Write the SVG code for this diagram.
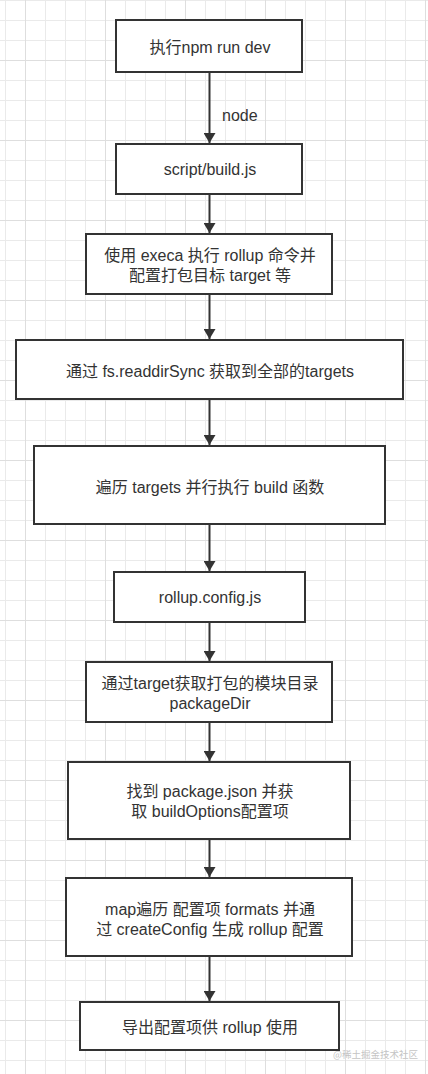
<svg xmlns="http://www.w3.org/2000/svg" width="428" height="1074" viewBox="0 0 428 1074">
<defs>
<pattern id="grid" patternUnits="userSpaceOnUse" x="25" y="60" width="80" height="80">
<rect x="0" y="0" width="80" height="80" fill="#ffffff"/>
<rect x="20" y="0" width="1" height="80" fill="#eaeaea"/>
<rect x="40" y="0" width="1" height="80" fill="#eaeaea"/>
<rect x="60" y="0" width="1" height="80" fill="#eaeaea"/>
<rect x="0" y="20" width="80" height="1" fill="#eaeaea"/>
<rect x="0" y="40" width="80" height="1" fill="#eaeaea"/>
<rect x="0" y="60" width="80" height="1" fill="#eaeaea"/>
<rect x="0" y="0" width="1" height="80" fill="#dedede"/>
<rect x="0" y="0" width="80" height="1" fill="#dedede"/>
</pattern>
<marker id="arrow" viewBox="0 0 10 12" refX="10" refY="6" markerWidth="10" markerHeight="12" markerUnits="userSpaceOnUse" orient="auto">
<path d="M0,0 L10,6 L0,12 Z" fill="#333"/>
</marker>
<style>
.box{fill:#ffffff;stroke:#333;stroke-width:2}
.t{font-family:"Liberation Sans","Noto Sans CJK SC",sans-serif;font-size:16px;fill:#333;text-anchor:middle}
.lbl{font-family:"Liberation Sans","Noto Sans CJK SC",sans-serif;font-size:16px;fill:#333}
.edge{stroke:#333;stroke-width:2;fill:none}
.wm{font-family:"Noto Sans CJK SC",sans-serif;font-size:9.5px;fill:#c4c4c4}
</style>
</defs>
<rect x="0" y="0" width="428" height="1074" fill="url(#grid)"/>
<g id="connectors">
<line class="edge" x1="209.5" y1="72" x2="209.5" y2="143" marker-end="url(#arrow)"/>
<text class="lbl" x="222" y="121">node</text>
<line class="edge" x1="209.5" y1="194" x2="209.5" y2="233" marker-end="url(#arrow)"/>
<line class="edge" x1="209.5" y1="294" x2="209.5" y2="339" marker-end="url(#arrow)"/>
<line class="edge" x1="209.5" y1="399" x2="209.5" y2="445" marker-end="url(#arrow)"/>
<line class="edge" x1="209.5" y1="524" x2="209.5" y2="571" marker-end="url(#arrow)"/>
<line class="edge" x1="209.5" y1="622" x2="209.5" y2="661" marker-end="url(#arrow)"/>
<line class="edge" x1="209.5" y1="722" x2="209.5" y2="761" marker-end="url(#arrow)"/>
<line class="edge" x1="209.5" y1="839" x2="209.5" y2="877" marker-end="url(#arrow)"/>
<line class="edge" x1="209.5" y1="956" x2="209.5" y2="1001" marker-end="url(#arrow)"/>
</g>
<g id="n1"><rect class="box" x="116" y="20" width="186" height="52"/><text class="t" x="210" y="53">执行npm run dev</text></g>
<g id="n2"><rect class="box" x="116" y="144" width="186" height="50"/><text class="t" x="210" y="175">script/build.js</text></g>
<g id="n3"><rect class="box" x="86" y="234" width="246" height="60"/><text class="t" x="210" y="261">使用 execa 执行 rollup 命令并</text><text class="t" x="210" y="281">配置打包目标 target 等</text></g>
<g id="n4"><rect class="box" x="16" y="340" width="387" height="59"/><text class="t" x="210" y="376.5">通过 fs.readdirSync 获取到全部的targets</text></g>
<g id="n5"><rect class="box" x="34" y="446" width="351" height="78"/><text class="t" x="210" y="492.5">遍历 targets 并行执行 build 函数</text></g>
<g id="n6"><rect class="box" x="114" y="572" width="191" height="50"/><text class="t" x="210" y="602.5">rollup.config.js</text></g>
<g id="n7"><rect class="box" x="86" y="662" width="246" height="60"/><text class="t" x="210" y="689">通过target获取打包的模块目录</text><text class="t" x="210" y="708.5">packageDir</text></g>
<g id="n8"><rect class="box" x="68" y="762" width="282" height="77"/><text class="t" x="210" y="797">找到 package.json 并获</text><text class="t" x="210" y="816.5">取 buildOptions配置项</text></g>
<g id="n9"><rect class="box" x="66" y="878" width="286" height="78"/><text class="t" x="210" y="914.5">map遍历 配置项 formats 并通</text><text class="t" x="210" y="934.5">过 createConfig 生成 rollup 配置</text></g>
<g id="n10"><rect class="box" x="80" y="1002" width="259" height="48"/><text class="t" x="210" y="1032.5">导出配置项供 rollup 使用</text></g>
<text class="wm" x="333" y="1058">@稀土掘金技术社区</text>
</svg>
